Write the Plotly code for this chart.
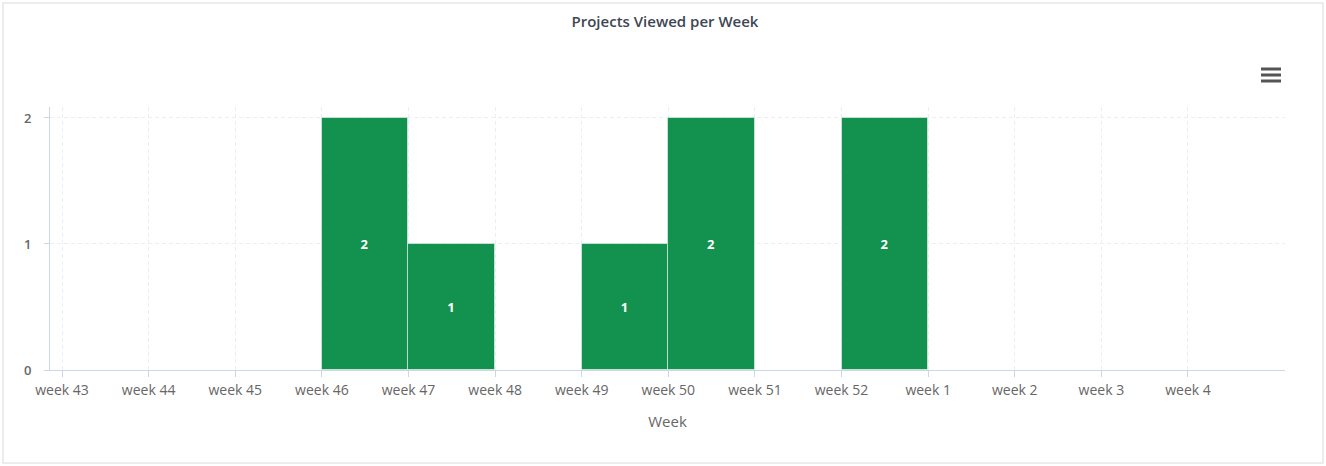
import plotly.graph_objects as go

# Weekly counts of viewed projects
weeks = ["week 43", "week 44", "week 45", "week 46", "week 47", "week 48", "week 49",
         "week 50", "week 51", "week 52", "week 1", "week 2", "week 3", "week 4"]
views = [0, 0, 0, 2, 1, 0, 1, 2, 0, 2, 0, 0, 0, 0]

W, H = 1326, 466
plot_left, plot_right = 50, 1285
plot_top, plot_bottom = 107, 370

idx = list(range(len(weeks)))
shown = [i for i, v in enumerate(views) if v > 0]

fig = go.Figure()
fig.add_trace(go.Bar(
    x=[idx[i] for i in shown],
    y=[views[i] for i in shown],
    width=1, offset=0,
    marker=dict(color="#13914f", line=dict(color="rgba(255,255,255,0.5)", width=1)),
    text=[str(views[i]) for i in shown],
    textposition="inside", insidetextanchor="middle",
    textfont=dict(color="#ffffff", size=13, family="Open Sans", weight=700),
    hoverinfo="skip",
))

axis_col = "#ccd6eb"
grid_col = "#eceef2"
fig.update_xaxes(
    range=[-0.139, 14.12],
    tickmode="array", tickvals=idx, ticktext=weeks,
    showline=True, linecolor=axis_col, linewidth=1,
    ticks="outside", ticklen=6, tickcolor=axis_col,
    ticklabelstandoff=1,
    showgrid=True, gridcolor=grid_col, griddash="4px,3px", gridwidth=1,
    tickfont=dict(size=14, color="#666666", family="Open Sans"),
    title=dict(text="Week", font=dict(size=15, color="#666666", family="Open Sans"), standoff=18),
    zeroline=False,
)
fig.update_yaxes(
    range=[0, 2.087],
    tickvals=[0, 1, 2],
    showline=True, linecolor=axis_col, linewidth=1,
    ticks="outside", ticklen=5, tickcolor=axis_col,
    ticklabelstandoff=10,
    showgrid=True, gridcolor=grid_col, griddash="4px,3px", gridwidth=1,
    tickfont=dict(size=13, color="#666666", family="Open Sans", weight=600),
    zeroline=False,
)

pw = plot_right - plot_left
ph = plot_bottom - plot_top

def px_x(p):
    return (p - plot_left) / pw

def px_y(p):
    return (plot_bottom - p) / ph

shapes = [
    # outer frame
    dict(type="rect", xref="paper", yref="paper",
         x0=px_x(3), x1=px_x(1323), y0=px_y(463), y1=px_y(3),
         line=dict(color="#e6e6e6", width=1.5), fillcolor="rgba(0,0,0,0)", layer="below"),
]
# menu icon
for yy in (69, 75, 81):
    shapes.append(dict(type="line", xref="paper", yref="paper",
                       x0=px_x(1261), x1=px_x(1281), y0=px_y(yy), y1=px_y(yy),
                       line=dict(color="#555555", width=3)))

fig.update_layout(
    width=W, height=H,
    margin=dict(l=plot_left, r=W - plot_right, t=plot_top, b=H - plot_bottom),
    paper_bgcolor="#ffffff", plot_bgcolor="#ffffff",
    showlegend=False,
    bargap=0,
    shapes=shapes,
    title=dict(text="Projects Viewed per Week", x=665 / W, xanchor="center",
               y=1 - 22 / H, yanchor="middle",
               font=dict(size=15, color="#3d4654", family="Open Sans", weight=600)),
    font=dict(family="Open Sans"),
)

fig.write_html("out.html", config={"displayModeBar": False})
